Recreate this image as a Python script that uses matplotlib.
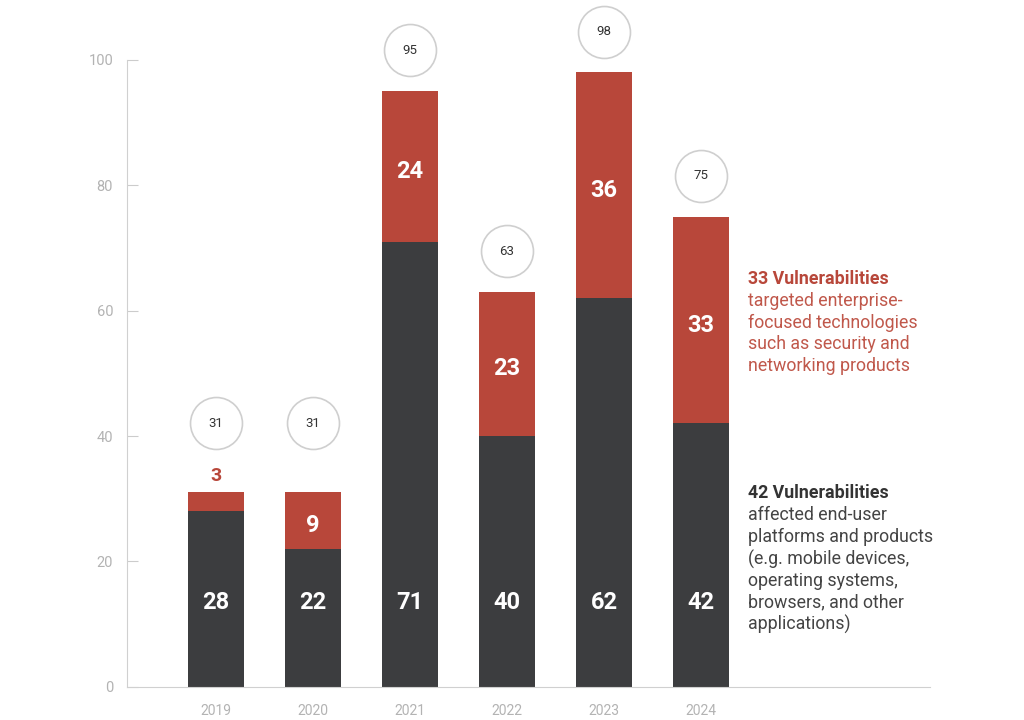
import matplotlib.pyplot as plt

years = ["2019", "2020", "2021", "2022", "2023", "2024"]
end_user = [28, 22, 71, 40, 62, 42]
enterprise = [3, 9, 24, 23, 36, 33]
totals = [31, 31, 95, 63, 98, 75]

DARK = "#3c3d3f"
RED = "#b8473a"
GREY = "#b3b3b3"

plt.rcParams["font.family"] = ["Roboto", "DejaVu Sans"]

fig = plt.figure(figsize=(10.24, 7.2), dpi=100)
ax = fig.add_axes([0.124, 0.046, 0.784, 0.871])

x = list(range(len(years)))
w = 0.58
ax.bar(x, end_user, width=w, color=DARK, zorder=2)
ax.bar(x, enterprise, width=w, bottom=end_user, color=RED, zorder=2)

for i in x:
    ax.text(i, 13.5, str(end_user[i]), color="white", fontsize=17, fontweight="bold",
            ha="center", va="center", zorder=3)
    top = end_user[i] + enterprise[i]
    if enterprise[i] < 5:
        ax.text(i, top + 2.6, str(enterprise[i]), color=RED, fontsize=14, fontweight="bold",
                ha="center", va="center")
        cy = top + 11
    else:
        ax.text(i, end_user[i] + enterprise[i] / 2 - 0.8, str(enterprise[i]), color="white",
                fontsize=17, fontweight="bold", ha="center", va="center", zorder=3)
        cy = top + 6.5
    if i == 1:
        cy = end_user[0] + enterprise[0] + 11
    ax.scatter([i], [cy], s=1400, facecolor="white", edgecolor="#cfcfcf", linewidth=1.2,
               zorder=4, clip_on=False)
    ax.text(i, cy, str(totals[i]), color="#333333", fontsize=9.5, ha="center", va="center",
            zorder=5, clip_on=False)

ax.set_xlim(-0.92, 7.36)
ax.set_ylim(0, 100)
ax.set_yticks([0, 20, 40, 60, 80, 100])
ax.set_xticks(x)
ax.set_xticklabels(years)
ax.tick_params(axis="y", direction="in", length=8, color="#cccccc", labelcolor=GREY,
               labelsize=10.5, pad=10)
ax.tick_params(axis="x", length=0, labelcolor=GREY, labelsize=10, pad=12)
for s in ["top", "right"]:
    ax.spines[s].set_visible(False)
ax.spines["left"].set_color("#d0d0d0")
ax.spines["bottom"].set_color("#d0d0d0")

fx = 0.730
fs = 12.8
fig.text(fx, 1 - 279 / 720, "33 Vulnerabilities", color=RED, fontsize=fs,
         fontweight="bold", va="center")
fig.text(fx, 1 - 292 / 720,
         "targeted enterprise-\nfocused technologies\nsuch as security and\nnetworking products",
         color="#c0584b", fontsize=fs, va="top", linespacing=1.25)
fig.text(fx, 1 - 493 / 720, "42 Vulnerabilities", color="#333333", fontsize=fs,
         fontweight="bold", va="center")
fig.text(fx, 1 - 506 / 720,
         "affected end-user\nplatforms and products\n(e.g. mobile devices,\noperating systems,\nbrowsers, and other\napplications)",
         color="#444444", fontsize=fs, va="top", linespacing=1.25)

fig.savefig("out.png", dpi=100)
